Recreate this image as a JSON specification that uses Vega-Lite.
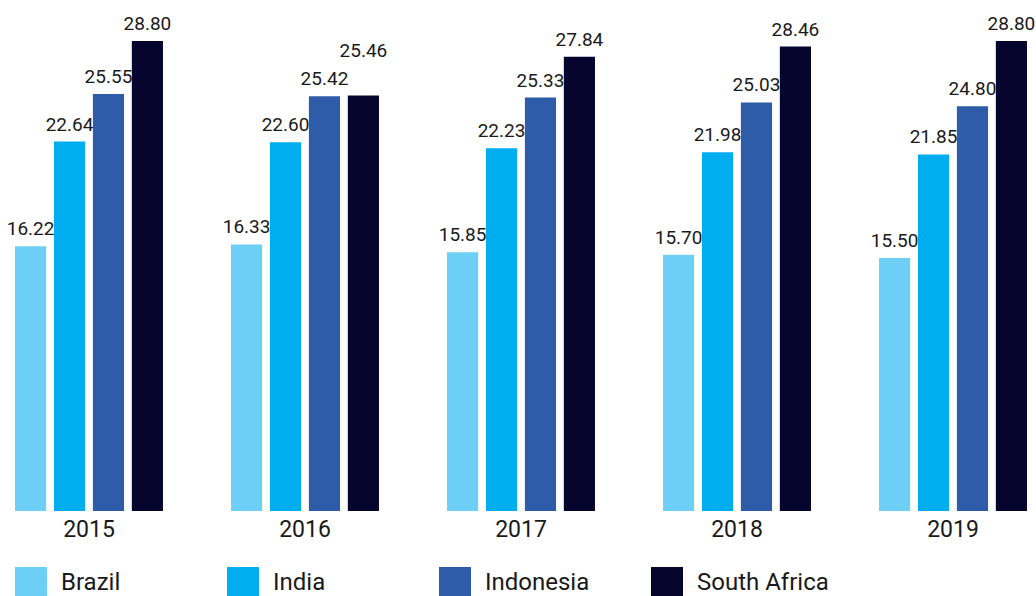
{
  "$schema": "https://vega.github.io/schema/vega-lite/v6.json",
  "width": 1036,
  "height": 511,
  "autosize": {"type": "none"},
  "padding": {"left": 0, "top": 0, "right": 0, "bottom": 85},
  "background": "white",
  "config": {
    "view": {"stroke": null},
    "font": "Roboto",
    "axis": {"labelFont": "Roboto", "labelColor": "#1a1a1a"},
    "legend": {"labelFont": "Roboto", "labelColor": "#1a1a1a"}
  },
  "data": {
    "values": [
      {"year": "2015", "country": "Brazil", "value": 16.22},
      {"year": "2015", "country": "India", "value": 22.64},
      {"year": "2015", "country": "Indonesia", "value": 25.55},
      {"year": "2015", "country": "South Africa", "value": 28.80},
      {"year": "2016", "country": "Brazil", "value": 16.33},
      {"year": "2016", "country": "India", "value": 22.60},
      {"year": "2016", "country": "Indonesia", "value": 25.42},
      {"year": "2016", "country": "South Africa", "value": 25.46},
      {"year": "2017", "country": "Brazil", "value": 15.85},
      {"year": "2017", "country": "India", "value": 22.23},
      {"year": "2017", "country": "Indonesia", "value": 25.33},
      {"year": "2017", "country": "South Africa", "value": 27.84},
      {"year": "2018", "country": "Brazil", "value": 15.70},
      {"year": "2018", "country": "India", "value": 21.98},
      {"year": "2018", "country": "Indonesia", "value": 25.03},
      {"year": "2018", "country": "South Africa", "value": 28.46},
      {"year": "2019", "country": "Brazil", "value": 15.50},
      {"year": "2019", "country": "India", "value": 21.85},
      {"year": "2019", "country": "Indonesia", "value": 24.80},
      {"year": "2019", "country": "South Africa", "value": 28.80}
    ]
  },
  "encoding": {
    "x": {
      "field": "year",
      "type": "nominal",
      "scale": {"paddingInner": 0.315, "paddingOuter": 0.0556, "align": 0.625},
      "axis": {
        "title": null,
        "labelAngle": 0,
        "labelFontSize": 23,
        "labelPadding": 7,
        "ticks": false,
        "domain": false,
        "grid": false
      }
    },
    "xOffset": {
      "field": "country",
      "type": "nominal",
      "sort": ["Brazil", "India", "Indonesia", "South Africa"],
      "scale": {"paddingInner": 0.2, "paddingOuter": 0}
    },
    "y": {
      "field": "value",
      "type": "quantitative",
      "scale": {"domain": [0, 31.31], "nice": false, "zero": true},
      "axis": null
    }
  },
  "layer": [
    {
      "mark": {"type": "bar"},
      "encoding": {
        "color": {
          "field": "country",
          "type": "nominal",
          "sort": ["Brazil", "India", "Indonesia", "South Africa"],
          "scale": {
            "domain": ["Brazil", "India", "Indonesia", "South Africa"],
            "range": ["#6dcff6", "#00aeef", "#2e5ca8", "#05052e"]
          },
          "legend": {
            "title": null,
            "orient": "none",
            "legendX": 15,
            "legendY": 567,
            "direction": "horizontal",
            "columns": 4,
            "gridAlign": "all",
            "columnPadding": 34,
            "symbolType": "square",
            "symbolSize": 1024,
            "symbolStrokeWidth": 0,
            "labelFontSize": 24,
            "labelOffset": 14,
            "labelLimit": 300
          }
        }
      }
    },
    {
      "transform": [{"filter": "!(datum.year == '2016' && datum.country == 'South Africa')"}],
      "mark": {
        "type": "text",
        "baseline": "alphabetic",
        "dy": -11,
        "fontSize": 19,
        "font": "Roboto",
        "color": "#1a1a1a"
      },
      "encoding": {
        "text": {"field": "value", "type": "quantitative", "format": ".2f"}
      }
    },
    {
      "transform": [{"filter": "datum.year == '2016' && datum.country == 'South Africa'"}],
      "mark": {
        "type": "text",
        "baseline": "alphabetic",
        "dy": -38,
        "fontSize": 19,
        "font": "Roboto",
        "color": "#1a1a1a"
      },
      "encoding": {
        "text": {"field": "value", "type": "quantitative", "format": ".2f"}
      }
    }
  ]
}
